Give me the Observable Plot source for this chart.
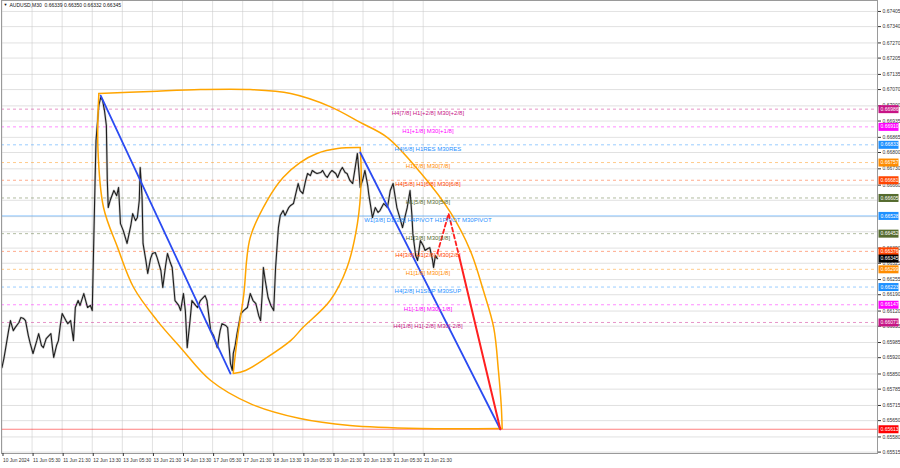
<!DOCTYPE html>
<html><head><meta charset="utf-8">
<script src="https://cdn.jsdelivr.net/npm/d3@7"></script>
<script src="https://cdn.jsdelivr.net/npm/@observablehq/plot@0.6"></script>
<style>
body{margin:0;background:#fff;}
#chart svg{display:block;}
</style>
</head><body><div id="chart"></div>
<script>
// ---------- DATA ----------
const symbolHeader = "AUDUSD,M30  0.66339 0.66350 0.66332 0.66345";

// bar index (M30 bars from left edge) and close price
const bars = [0,2,4,7,9,12,14,18,20,23,25,28,30,33,37,39,42,44,47,52,54,55,58,60,62,64,68,70,73,76,78,81,83,87,89,91,94,96,
  99,100,103,105,107,109,111,112,113,115,119,122,124,126,129,133,137,139,142,144,146,147,149,150,153,155,158,160,163,165,169,171,
  174,176,179,181,184,188,190,193,195,197,200,202,206,208,211,214,216,218,222,225,229,232,234,238,240,243,245,246,248,250,254,257,
  261,264,267,270,273,275,277,278,280,283,286,289,291,293,294,296,299,301,305,307,310,312,315,317,320,323,325,328,330,333,335,339,
  341,344,346,349,351,355,357,360,362,365,367,370,373,376,378,380,381,384,386,389,390,392,394,397,400,402,406,408,410,413,416,418,
  420,424,426,429,431,434,436,437,440,442,445,448,450,453,455,458,459,461,463];
const closes = [0.65878,0.65916,0.65963,0.66036,0.66079,0.66036,0.66049,0.66071,0.66092,0.66088,0.66079,0.66015,0.65981,0.65938,
  0.65993,0.66023,0.65972,0.65963,0.66002,0.66023,0.65951,0.65921,0.65972,0.65993,0.66058,0.66109,0.66079,0.66066,0.66079,0.65993,
  0.66135,0.66165,0.66144,0.66195,0.66165,0.66135,0.66144,0.66122,
  0.66680,0.66851,0.67002,0.67036,0.67023,0.66980,0.66916,0.66680,0.66564,0.66594,0.66637,0.66615,0.66650,0.66495,0.66465,0.66410,
  0.66487,0.66538,0.66508,0.66521,0.66594,0.66736,0.66607,0.66410,0.66337,0.66281,0.66345,0.66367,0.66371,0.66349,0.66294,0.66221,
  0.66315,0.66367,0.66328,0.66307,0.66165,0.66144,0.66122,0.66195,0.66122,0.65963,0.66079,0.66165,0.66144,0.66135,0.66165,0.66178,
  0.66186,0.66165,0.66036,0.66015,0.65963,0.66036,0.66066,0.66058,0.66049,0.65895,0.65865,0.65938,0.65972,0.66023,0.66109,0.66122,
  0.66135,0.66195,0.66165,0.66152,0.66101,0.66079,0.66208,0.66307,0.66251,0.66178,0.66144,0.66122,0.66307,0.66422,0.66478,0.66530,
  0.66551,0.66530,0.66564,0.66573,0.66581,0.66615,0.66667,0.66637,0.66624,0.66680,0.66710,0.66701,0.66723,0.66714,0.66710,0.66714,
  0.66723,0.66701,0.66693,0.66714,0.66723,0.66710,0.66693,0.66723,0.66736,0.66714,0.66710,0.66680,0.66667,0.66744,0.66796,0.66701,
  0.66650,0.66688,0.66723,0.66658,0.66624,0.66573,0.66521,0.66564,0.66543,0.66551,0.66581,0.66573,0.66564,0.66637,0.66667,0.66615,
  0.66564,0.66508,0.66478,0.66530,0.66564,0.66637,0.66530,0.66452,0.66358,0.66337,0.66422,0.66401,0.66380,0.66388,0.66392,0.66337,
  0.66307,0.66358,0.66345];

const timeTickBars = [0,32,64,96,128,160,192,224,256,288,320,352,384,416,448];
const timeTickLabels = ["10 Jun 2024","11 Jun 05:30","11 Jun 21:30","12 Jun 13:30","13 Jun 05:30","13 Jun 21:30",
  "14 Jun 13:30","17 Jun 05:30","17 Jun 21:30","18 Jun 13:30","19 Jun 05:30","19 Jun 21:30","20 Jun 13:30",
  "21 Jun 05:30","21 Jun 21:30"];

const priceTicks = [0.67405,0.67340,0.67270,0.67205,0.67135,0.67070,0.67000,0.66935,0.66865,0.66800,0.66730,0.66660,
  0.66595,0.66525,0.66460,0.66390,0.66325,0.66255,0.66190,0.66120,0.66055,0.65985,0.65920,0.65850,0.65785,0.65715,
  0.65650,0.65580,0.65515];

// Murrey-math style levels
const levelPrices = [0.66986,0.66910,0.66833,0.66757,0.66681,0.66605,0.66528,0.66452,0.66376,0.66299,0.66223,0.66147,0.66071];
const levelLabels = ["H4[7/8] H1[+2/8] M30[+2/8]","H1[+1/8] M30[+1/8]","H4[6/8] H1RES M30RES","H1[7/8] M30[7/8]",
  "H4[5/8] H1[6/8] M30[6/8]","H1[5/8] M30[5/8]","W1[3/8] D1[3/8] H4PIVOT H1PIVOT M30PIVOT","H1[3/8] M30[3/8]",
  "H4[3/8] H1[2/8] M30[2/8]","H1[1/8] M30[1/8]","H4[2/8] H1SUP M30SUP","H1[-1/8] M30[-1/8]","H4[1/8] H1[-2/8] M30[-2/8]"];
const levelColors = ["#c71585","#ff00ff","#1e90ff","#ff8c00","#ff4500","#556b2f","#1e90ff","#556b2f","#ff4500","#ff8c00",
  "#1e90ff","#ff00ff","#c71585"];
const levelSolid = [false,false,false,false,false,false,true,false,false,false,false,false,false];
const levelLabelBar = 453;

const currentPrice = 0.66345;
const targetPrice = 0.65613;

// drawn objects: [bar, price]
const arcOuterTop = [[103,0.67053],[158,0.67062],[211,0.67070],[264,0.67070],[307,0.67053],[349,0.66997],[381,0.66929],
  [410,0.66864],[445,0.66714],[477,0.66543],[498,0.66380],[512,0.66208],[523,0.66049],[528,0.65865],[531,0.65715],[532,0.65616]];
const arcOuterBottom = [[103,0.67053],[102,0.66821],[108,0.66564],[123,0.66392],[140,0.66221],[165,0.66079],[190,0.65963],
  [222,0.65822],[264,0.65723],[317,0.65659],[370,0.65629],[445,0.65616],[532,0.65616]];
const arcInnerTop = [[246,0.65856],[250,0.65993],[257,0.66186],[264,0.66435],[282,0.66594],[299,0.66693],[317,0.66757],
  [335,0.66796],[357,0.66817],[381,0.66821]];
const arcInnerBottom = [[246,0.65852],[259,0.65865],[280,0.65916],[307,0.65993],[320,0.66049],[349,0.66165],[367,0.66307],
  [378,0.66495],[382,0.66680],[381,0.66821]];
const trendDown1 = [[105,0.67044],[243,0.65852]];
const trendDown2 = [[381,0.66800],[530,0.65613]];
const forecastDash = [[463,0.66367],[475,0.66538],[486,0.66358]];
const forecastSolid = [[486,0.66358],[530,0.65613]];

// ---------- BUILD ----------
const priceRows = bars.map((b, i) => ({bar: b, close: closes[i]}));
const levels = levelPrices.map((p, i) => ({price: p, label: levelLabels[i], color: levelColors[i], solid: levelSolid[i]}));
const boxRows = [...levels.map(d => ({price: d.price, color: d.color})),
  {price: currentPrice, color: "#000000"}, {price: targetPrice, color: "#ff0000"}];
// axis labels hidden behind a coloured price box are not drawn
const visibleTicks = priceTicks.filter(t => !boxRows.some(b => Math.abs(b.price - t) < 0.00013));

const xMin = -0.53, xMax = 931.2;
const font = "Liberation Sans, Arial, Helvetica, sans-serif";
const P = d => d[0], Q = d => d[1];

function boxRender(index, scales, values, dims, context, next) {
  const g = next(index, scales, values, dims, context);
  const ns = "http://www.w3.org/2000/svg";
  const first = g.firstChild;
  for (const i of index) {
    const r = document.createElementNS(ns, "rect");
    r.setAttribute("x", values.x[i] - 2);
    r.setAttribute("y", values.y[i] - 4);
    r.setAttribute("width", 20);
    r.setAttribute("height", 8);
    r.setAttribute("fill", boxRows[i].color);
    g.insertBefore(r, first);
  }
  return g;
}

const chart = Plot.plot({
  width: 900, height: 468,
  marginTop: 0, marginBottom: 15, marginLeft: 1, marginRight: 23,
  x: {domain: [xMin, xMax], label: null},
  y: {domain: [0.65509, 0.67452], label: null},
  style: {fontFamily: font, background: "#ffffff", color: "#222"},
  marks: [
    Plot.gridX(timeTickBars, {stroke: "#c8c8c8", strokeOpacity: 0.55}),
    Plot.gridY(priceTicks, {stroke: "#c8c8c8", strokeOpacity: 0.55}),
    Plot.ruleY(levels.filter(d => !d.solid), {y: "price", stroke: "color", strokeOpacity: 0.45, strokeDasharray: "3,3"}),
    Plot.ruleY(levels.filter(d => d.solid), {y: "price", stroke: "color", strokeOpacity: 0.4, strokeWidth: 1.2}),
    Plot.ruleY([targetPrice], {stroke: "#ff0000", strokeOpacity: 0.5}),
    Plot.line(priceRows, {x: "bar", y: "close", stroke: "#8a8a8a", strokeWidth: 2.4, strokeOpacity: 0.4}),
    Plot.line(priceRows, {x: "bar", y: "close", stroke: "#1e1e1e", strokeWidth: 1.1}),
    Plot.line(arcOuterTop, {x: P, y: Q, curve: "catmull-rom", stroke: "#ffa500", strokeWidth: 1.5}),
    Plot.line(arcOuterBottom, {x: P, y: Q, curve: "catmull-rom", stroke: "#ffa500", strokeWidth: 1.5}),
    Plot.line(arcInnerTop, {x: P, y: Q, curve: "catmull-rom", stroke: "#ffa500", strokeWidth: 1.5}),
    Plot.line(arcInnerBottom, {x: P, y: Q, curve: "catmull-rom", stroke: "#ffa500", strokeWidth: 1.5}),
    Plot.line(trendDown1, {x: P, y: Q, stroke: "#2b4bf2", strokeWidth: 1.8}),
    Plot.line(trendDown2, {x: P, y: Q, stroke: "#2b4bf2", strokeWidth: 1.8}),
    Plot.line(forecastDash, {x: P, y: Q, stroke: "#ff2020", strokeWidth: 1.8, strokeDasharray: "4,3"}),
    Plot.line(forecastSolid, {x: P, y: Q, stroke: "#ff2020", strokeWidth: 2}),
    Plot.text(levels, {x: () => levelLabelBar, y: "price", text: "label", fill: "color", fontSize: 6, dy: 4, textAnchor: "middle"}),
    Plot.frame({stroke: "#9a9a9a"}),
    Plot.axisY(visibleTicks, {anchor: "right", tickSize: 3, tickPadding: 2, tickFormat: d => d.toFixed(5), fontSize: 5, color: "#333", label: null}),
    Plot.axisX(timeTickBars, {anchor: "bottom", tickSize: 3, tickPadding: 2, fontSize: 4.8, color: "#333", label: null,
      tickFormat: d => timeTickLabels[timeTickBars.indexOf(d)], textAnchor: "start", dx: 1}),
    Plot.text(boxRows, {x: () => xMax, y: "price", text: d => d.price.toFixed(5), fill: "#ffffff", fontSize: 5,
      textAnchor: "start", dx: 3, render: boxRender}),
    Plot.text([symbolHeader], {frameAnchor: "top-left", text: d => d, dx: 8, dy: 3, fontSize: 5, fill: "#111"}),
    Plot.text(["▼"], {frameAnchor: "top-left", text: d => d, dx: 2, dy: 3, fontSize: 4, fill: "#111"})
  ]
});
document.getElementById("chart").appendChild(chart);
</script>
</body></html>
